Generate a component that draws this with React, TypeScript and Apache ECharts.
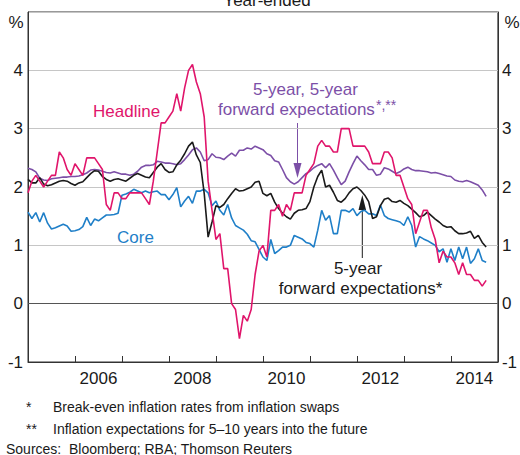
import React, { useEffect, useRef } from "react";
import * as echarts from "echarts";

// Monthly, Jan 2005 – Oct 2014 (year-ended, %)
const START_YEAR = 2005;
const HEADLINE = [
  1.9, 2.1, 2.2, 2.1, 2.0, 2.1, 2.2, 2.2, 2.6, 2.5, 2.3, 2.2,
  2.4, 2.3, 2.2, 2.5, 2.5, 2.5, 2.4, 2.3, 1.7, 1.6, 1.9, 1.9,
  1.8, 1.8, 1.9, 1.9, 1.9, 1.9, 1.8, 1.7, 2.1, 2.6, 3.1, 3.1,
  3.2, 3.3, 3.6, 3.3, 3.7, 4.0, 4.1, 3.8, 3.6, 3.2, 2.1, 1.6,
  1.1, 1.2, 0.6, 0.6, 0.0, -0.1, -0.6, -0.2, -0.3, -0.1, 0.5, 0.9,
  1.0, 0.8, 1.6, 1.6, 1.7, 1.5, 1.7, 1.6, 1.9, 1.9, 1.9, 2.2,
  2.3, 2.4, 2.7, 2.8, 2.7, 2.7, 2.6, 2.6, 3.0, 3.0, 3.0, 2.7,
  2.7, 2.7, 2.7, 2.6, 2.4, 2.4, 2.4, 2.6, 2.6, 2.5, 2.2, 2.2,
  2.0, 1.8, 1.7, 1.2, 1.4, 1.6, 1.6, 1.3, 1.1, 0.7, 0.9, 0.8,
  0.8, 0.7, 0.5, 0.7, 0.5, 0.5, 0.4, 0.4, 0.3, 0.4,
];
const CORE = [
  1.57, 1.46, 1.56, 1.40, 1.56, 1.38, 1.28, 1.30, 1.33, 1.36, 1.33, 1.24,
  1.25, 1.27, 1.32, 1.48, 1.34, 1.45, 1.42, 1.47, 1.52, 1.52, 1.53, 1.55,
  1.86, 1.88, 1.91, 1.96, 1.93, 1.90, 1.93, 1.90, 1.92, 1.93, 1.87, 1.87,
  1.78, 1.87, 1.99, 1.66, 1.76, 1.84, 1.72, 1.93, 1.93, 1.96, 1.90, 1.68,
  1.76, 1.60, 1.52, 1.70, 1.47, 1.34, 1.30, 1.26, 1.19, 1.08, 1.06, 0.93,
  0.80, 0.74, 1.10, 0.86, 0.91, 0.97, 0.97, 1.00, 1.17, 1.14, 1.11, 1.05,
  1.03, 0.97, 1.26, 1.60, 1.43, 1.51, 1.20, 1.20, 1.60, 1.60, 1.57, 1.63,
  1.51, 1.58, 1.60, 1.54, 1.54, 1.51, 1.69, 1.51, 1.46, 1.44, 1.42, 1.40,
  1.34, 1.49, 1.34, 0.97, 1.15, 1.11, 1.08, 1.04, 1.00, 0.89, 0.94, 0.71,
  0.94, 0.74, 0.97, 0.77, 0.97, 0.69, 0.77, 0.94, 0.74, 0.71,
];
const FWD_5Y = [
  2.13, 2.07, 2.07, 2.16, 2.05, 2.02, 2.04, 2.07, 2.10, 2.11, 2.10, 2.06,
  2.03, 2.07, 2.09, 2.16, 2.23, 2.28, 2.27, 2.18, 2.13, 2.10, 2.13, 2.14,
  2.12, 2.10, 2.15, 2.20, 2.23, 2.20, 2.17, 2.16, 2.25, 2.34, 2.40, 2.30,
  2.25, 2.26, 2.38, 2.46, 2.57, 2.70, 2.77, 2.55, 2.42, 1.89, 1.14, 1.40,
  1.68, 1.65, 1.70, 1.80, 1.89, 1.97, 1.93, 1.94, 1.97, 2.00, 2.08, 2.10,
  1.89, 1.85, 1.89, 1.74, 1.63, 1.55, 1.49, 1.45, 1.55, 1.60, 1.61, 1.63,
  1.75, 2.00, 2.18, 2.29, 2.00, 2.03, 1.91, 1.77, 1.74, 1.80, 1.90, 1.97,
  2.00, 1.94, 1.86, 1.75, 1.46, 1.49, 1.68, 1.79, 1.81, 1.75, 1.74, 1.77,
  1.72, 1.68, 1.62, 1.56, 1.49, 1.51, 1.57, 1.51, 1.45, 1.40, 1.34, 1.31,
  1.32, 1.25, 1.20, 1.20, 1.21, 1.24, 1.12, 1.17, 1.05, 0.97,
];
const FWD_5Y5Y = [
  2.32, 2.30, 2.26, 2.15, 2.12, 2.11, 2.14, 2.15, 2.16, 2.17, 2.17, 2.18,
  2.18, 2.19, 2.21, 2.24, 2.29, 2.30, 2.29, 2.27, 2.25, 2.24, 2.26, 2.24,
  2.22, 2.22, 2.20, 2.22, 2.27, 2.34, 2.37, 2.37, 2.38, 2.44, 2.43, 2.41,
  2.41, 2.40, 2.38, 2.40, 2.47, 2.55, 2.64, 2.67, 2.60, 2.45, 2.47, 2.57,
  2.51, 2.50, 2.47, 2.53, 2.58, 2.53, 2.63, 2.63, 2.67, 2.65, 2.70, 2.67,
  2.64, 2.57, 2.54, 2.45, 2.43, 2.30, 2.16, 2.09, 2.05, 2.09, 2.16, 2.23,
  2.27, 2.33, 2.37, 2.40, 2.33, 2.40, 2.29, 2.16, 2.04, 2.10, 2.26, 2.40,
  2.53, 2.45, 2.38, 2.30, 2.30, 2.20, 2.22, 2.33, 2.31, 2.27, 2.23, 2.26,
  2.31, 2.34, 2.30, 2.28, 2.28, 2.27, 2.26, 2.24, 2.25, 2.23, 2.21, 2.19,
  2.18, 2.12, 2.10, 2.09, 2.11, 2.09, 2.06, 2.03, 1.95, 1.84,
];
const YEAR_TICKS = [2005, 2006, 2007, 2008, 2009, 2010, 2011, 2012, 2013, 2014, 2015];
const YEAR_LABELS = [2006, 2008, 2010, 2012, 2014];
const Y_TICKS = [-1, 0, 1, 2, 3, 4, 5];

const FONT = '"Liberation Sans", Arial, sans-serif';
const C_HEAD = "#e0156b";
const C_CORE = "#1f7fc8";
const C_PURP = "#7c4fa7";
const C_BLACK = "#1a1a1a";

const toPairs = (arr: number[]) => arr.map((v, i) => [START_YEAR + i / 12, v]);

export default function App() {
  const ref = useRef<HTMLDivElement>(null);
  useEffect(() => {
    if (!ref.current) return;
    const chart = echarts.init(ref.current, undefined, { renderer: "svg" });
    const yAxisBase = {
      type: "value" as const,
      min: Y_TICKS[0],
      max: Y_TICKS[Y_TICKS.length - 1],
      interval: 1,
      axisLine: { show: true, lineStyle: { color: "#333", width: 1 } },
      axisTick: { show: false },
      axisLabel: {
        fontSize: 17,
        fontFamily: FONT,
        color: "#1a1a1a",
        formatter: (v: number) => (v === 5 ? "" : String(v)),
      },
    };
    const line = (name: string, data: number[], color: string, z: number) => ({
      type: "line",
      name,
      data: toPairs(data),
      showSymbol: false,
      symbol: "none",
      z,
      lineStyle: { color, width: 1.6 },
      itemStyle: { color },
    });
    const txt = (text: string, x: number, y: number, color: string, align = "left", size = 17) => ({
      type: "text",
      x,
      y,
      style: {
        text,
        fill: color,
        font: `${size}px ${FONT}`,
        textAlign: align,
        textVerticalAlign: "middle",
      },
    });
    chart.setOption({
      animation: false,
      grid: { left: 28, right: 17, top: 12, bottom: 93, show: true, borderColor: "#333", borderWidth: 1 },
      xAxis: {
        type: "value",
        min: 2005,
        max: 2015,
        axisLine: { show: true, onZero: false, lineStyle: { color: "#333" } },
        axisTick: { show: true, inside: true, length: 6, customValues: YEAR_TICKS, lineStyle: { color: "#333" } },
        axisLabel: {
          customValues: YEAR_LABELS.map((y) => y + 0.5),
          formatter: (v: number) => String(Math.floor(v)),
          fontSize: 17,
          fontFamily: FONT,
          color: "#1a1a1a",
          margin: 8,
        },
        splitLine: { show: false },
      },
      yAxis: [
        { ...yAxisBase, position: "left", axisLabel: { ...yAxisBase.axisLabel, margin: 5 }, splitLine: { show: true, lineStyle: { color: "#c6c6c6", width: 1 } } },
        { ...yAxisBase, position: "right", axisLabel: { ...yAxisBase.axisLabel, margin: 4 }, splitLine: { show: false } },
      ],
      series: [
        {
          ...line("Core", CORE, C_CORE, 2),
          markLine: {
            silent: true,
            symbol: "none",
            label: { show: false },
            lineStyle: { color: "#555", width: 1, type: "solid" },
            data: [{ yAxis: 0 }],
          },
        },
        line("5-year, 5-year forward expectations", FWD_5Y5Y, C_PURP, 3),
        line("5-year forward expectations", FWD_5Y, C_BLACK, 4),
        line("Headline", HEADLINE, C_HEAD, 5),
      ],
      graphic: [
        txt("Year-ended", 267, 0, "#1a1a1a", "center"),
        txt("%", 16, 22, "#1a1a1a", "center"),
        txt("%", 512, 22, "#1a1a1a", "center"),
        txt("Headline", 93, 111, C_HEAD),
        txt("Core", 117, 237, C_CORE),
        txt("5-year, 5-year", 253, 89, C_PURP),
        txt("forward expectations", 218, 109, C_PURP),
        txt("*,**", 376, 105, C_PURP, "left", 14),
        { type: "line", shape: { x1: 297.5, y1: 123, x2: 297.5, y2: 165 }, style: { stroke: C_PURP, lineWidth: 1 } },
        { type: "polygon", shape: { points: [[293.5, 163], [301.5, 163], [297.5, 178]] }, style: { fill: C_PURP } },
        txt("5-year", 358, 268, C_BLACK, "center"),
        txt("forward expectations*", 360.5, 288, C_BLACK, "center"),
        { type: "line", shape: { x1: 362.3, y1: 258, x2: 362.3, y2: 208 }, style: { stroke: C_BLACK, lineWidth: 1 } },
        { type: "polygon", shape: { points: [[358.5, 210], [366.1, 210], [362.3, 195]] }, style: { fill: C_BLACK } },
        txt("*", 26, 407, "#1a1a1a", "left", 14),
        txt("Break-even inflation rates from inflation swaps", 53, 407, "#1a1a1a", "left", 14),
        txt("**", 26, 429, "#1a1a1a", "left", 14),
        txt("Inflation expectations for 5\u201310 years into the future", 53, 429, "#1a1a1a", "left", 14),
        txt("Sources:\u00a0 Bloomberg; RBA; Thomson Reuters", 6, 448.5, "#1a1a1a", "left", 14),
      ],
    });
    return () => chart.dispose();
  }, []);
  return <div ref={ref} style={{ position: "absolute", left: 0, top: 0, width: 520, height: 455 }} />;
}
